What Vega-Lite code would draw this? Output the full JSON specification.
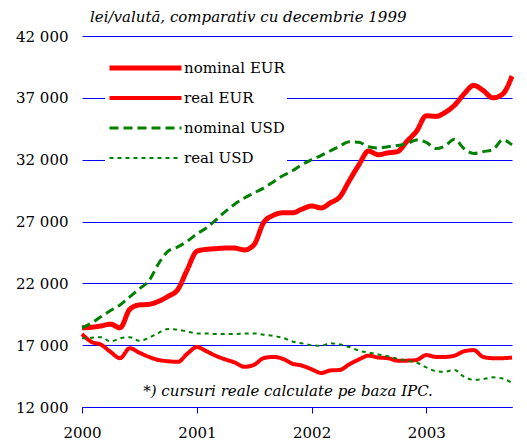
{
  "$schema": "https://vega.github.io/schema/vega-lite/v6.json",
  "width": 430,
  "height": 371,
  "autosize": {"type": "none"},
  "padding": {"left": 82, "top": 36, "right": 15, "bottom": 36},
  "background": "white",
  "title": {
    "text": "lei/valută, comparativ cu decembrie 1999",
    "anchor": "start",
    "frame": "group",
    "font": "DejaVu Serif",
    "fontSize": 15,
    "fontStyle": "italic",
    "fontWeight": "normal",
    "color": "black",
    "offset": 4,
    "dx": 8
  },
  "layer": [
    {
      "data": {
        "values": [
          {"month": "2000-01", "nominal EUR": 18400, "real EUR": 17900, "nominal USD": 18400, "real USD": 17550},
          {"month": "2000-02", "nominal EUR": 18450, "real EUR": 17250, "nominal USD": 18800, "real USD": 17600},
          {"month": "2000-03", "nominal EUR": 18550, "real EUR": 17050, "nominal USD": 19300, "real USD": 17650},
          {"month": "2000-04", "nominal EUR": 18700, "real EUR": 16450, "nominal USD": 19800, "real USD": 17300},
          {"month": "2000-05", "nominal EUR": 18400, "real EUR": 15950, "nominal USD": 20250, "real USD": 17550},
          {"month": "2000-06", "nominal EUR": 19900, "real EUR": 16750, "nominal USD": 20900, "real USD": 17650},
          {"month": "2000-07", "nominal EUR": 20250, "real EUR": 16400, "nominal USD": 21550, "real USD": 17350},
          {"month": "2000-08", "nominal EUR": 20300, "real EUR": 16050, "nominal USD": 22200, "real USD": 17600},
          {"month": "2000-09", "nominal EUR": 20550, "real EUR": 15800, "nominal USD": 23600, "real USD": 18000},
          {"month": "2000-10", "nominal EUR": 20950, "real EUR": 15700, "nominal USD": 24600, "real USD": 18300},
          {"month": "2000-11", "nominal EUR": 21500, "real EUR": 15650, "nominal USD": 24950, "real USD": 18250},
          {"month": "2000-12", "nominal EUR": 23100, "real EUR": 16300, "nominal USD": 25400, "real USD": 18100},
          {"month": "2001-01", "nominal EUR": 24600, "real EUR": 16850, "nominal USD": 26000, "real USD": 17950},
          {"month": "2001-02", "nominal EUR": 24750, "real EUR": 16500, "nominal USD": 26500, "real USD": 17950},
          {"month": "2001-03", "nominal EUR": 24800, "real EUR": 16150, "nominal USD": 27100, "real USD": 17900},
          {"month": "2001-04", "nominal EUR": 24850, "real EUR": 15850, "nominal USD": 27800, "real USD": 17900},
          {"month": "2001-05", "nominal EUR": 24850, "real EUR": 15600, "nominal USD": 28400, "real USD": 17900},
          {"month": "2001-06", "nominal EUR": 24700, "real EUR": 15250, "nominal USD": 28900, "real USD": 17950},
          {"month": "2001-07", "nominal EUR": 25100, "real EUR": 15400, "nominal USD": 29300, "real USD": 17950},
          {"month": "2001-08", "nominal EUR": 26900, "real EUR": 15950, "nominal USD": 29700, "real USD": 17850},
          {"month": "2001-09", "nominal EUR": 27500, "real EUR": 16050, "nominal USD": 30200, "real USD": 17750},
          {"month": "2001-10", "nominal EUR": 27700, "real EUR": 15900, "nominal USD": 30700, "real USD": 17600},
          {"month": "2001-11", "nominal EUR": 27700, "real EUR": 15500, "nominal USD": 31100, "real USD": 17300},
          {"month": "2001-12", "nominal EUR": 28000, "real EUR": 15350, "nominal USD": 31600, "real USD": 17150},
          {"month": "2002-01", "nominal EUR": 28250, "real EUR": 15050, "nominal USD": 32000, "real USD": 17000},
          {"month": "2002-02", "nominal EUR": 28100, "real EUR": 14750, "nominal USD": 32350, "real USD": 16950},
          {"month": "2002-03", "nominal EUR": 28500, "real EUR": 14950, "nominal USD": 32700, "real USD": 17150},
          {"month": "2002-04", "nominal EUR": 29000, "real EUR": 15000, "nominal USD": 33100, "real USD": 17050},
          {"month": "2002-05", "nominal EUR": 30300, "real EUR": 15450, "nominal USD": 33450, "real USD": 16850},
          {"month": "2002-06", "nominal EUR": 31600, "real EUR": 15850, "nominal USD": 33400, "real USD": 16550},
          {"month": "2002-07", "nominal EUR": 32700, "real EUR": 16150, "nominal USD": 33050, "real USD": 16400},
          {"month": "2002-08", "nominal EUR": 32400, "real EUR": 16000, "nominal USD": 32950, "real USD": 16250},
          {"month": "2002-09", "nominal EUR": 32550, "real EUR": 15950, "nominal USD": 33050, "real USD": 16100},
          {"month": "2002-10", "nominal EUR": 32650, "real EUR": 15750, "nominal USD": 33150, "real USD": 15900},
          {"month": "2002-11", "nominal EUR": 33500, "real EUR": 15750, "nominal USD": 33300, "real USD": 15750},
          {"month": "2002-12", "nominal EUR": 34300, "real EUR": 15800, "nominal USD": 33600, "real USD": 15600},
          {"month": "2003-01", "nominal EUR": 35550, "real EUR": 16200, "nominal USD": 33400, "real USD": 15200},
          {"month": "2003-02", "nominal EUR": 35500, "real EUR": 16050, "nominal USD": 32900, "real USD": 14900},
          {"month": "2003-03", "nominal EUR": 35800, "real EUR": 16050, "nominal USD": 33100, "real USD": 14850},
          {"month": "2003-04", "nominal EUR": 36400, "real EUR": 16150, "nominal USD": 33650, "real USD": 15000},
          {"month": "2003-05", "nominal EUR": 37300, "real EUR": 16500, "nominal USD": 32900, "real USD": 14450},
          {"month": "2003-06", "nominal EUR": 38000, "real EUR": 16600, "nominal USD": 32500, "real USD": 14200},
          {"month": "2003-07", "nominal EUR": 37600, "real EUR": 16050, "nominal USD": 32650, "real USD": 14250},
          {"month": "2003-08", "nominal EUR": 37000, "real EUR": 15950, "nominal USD": 32800, "real USD": 14400},
          {"month": "2003-09", "nominal EUR": 37300, "real EUR": 15950, "nominal USD": 33600, "real USD": 14300},
          {"month": "2003-10", "nominal EUR": 38750, "real EUR": 16000, "nominal USD": 33200, "real USD": 13950}
        ]
      },
      "transform": [
        {"fold": ["nominal EUR", "real EUR", "nominal USD", "real USD"], "as": ["series", "value"]}
      ],
      "mark": {"type": "line", "interpolate": "monotone"},
      "encoding": {
        "x": {
          "field": "month",
          "type": "temporal",
          "scale": {
            "type": "utc",
            "domain": [
              {"year": 2000, "month": 1, "date": 1, "utc": true},
              {"year": 2003, "month": 10, "date": 1, "utc": true}
            ]
          },
          "axis": {
            "values": [
              {"year": 2000, "month": 1, "date": 1, "utc": true},
              {"year": 2001, "month": 1, "date": 1, "utc": true},
              {"year": 2002, "month": 1, "date": 1, "utc": true},
              {"year": 2003, "month": 1, "date": 1, "utc": true}
            ],
            "labelExpr": "utcFormat(datum.value, '%Y')",
            "title": null,
            "grid": false,
            "domainColor": "#0000FF",
            "domainWidth": 1,
            "tickColor": "#0000FF",
            "tickSize": 6,
            "labelPadding": 12,
            "labelFont": "DejaVu Serif",
            "labelFontSize": 15,
            "labelColor": "black",
            "labelFlush": false,
            "labelOverlap": false
          }
        },
        "y": {
          "field": "value",
          "type": "quantitative",
          "scale": {"domain": [12000, 42000], "nice": false, "zero": false},
          "axis": {
            "values": [12000, 17000, 22000, 27000, 32000, 37000, 42000],
            "labelExpr": "replace(format(datum.value, ','), ',', ' ')",
            "title": null,
            "domain": false,
            "ticks": false,
            "tickSize": 0,
            "labelPadding": 14,
            "labelFont": "DejaVu Serif",
            "labelFontSize": 15,
            "labelColor": "black",
            "grid": true,
            "gridColor": "#0000FF",
            "gridOpacity": 1,
            "gridWidth": 1
          }
        },
        "color": {
          "field": "series",
          "type": "nominal",
          "scale": {
            "domain": ["nominal EUR", "real EUR", "nominal USD", "real USD"],
            "range": ["#FF0000", "#FF0000", "#008000", "#008000"]
          },
          "legend": {
            "title": null,
            "orient": "none",
            "legendX": 23,
            "legendY": 22,
            "symbolType": "stroke",
            "symbolSize": 5184,
            "clipHeight": 16,
            "rowPadding": 14,
            "labelFont": "DejaVu Serif",
            "labelFontSize": 15,
            "labelColor": "black",
            "labelOffset": 0,
            "labelLimit": 300,
            "fillColor": "white",
            "padding": 2
          }
        },
        "strokeWidth": {
          "field": "series",
          "type": "nominal",
          "scale": {
            "domain": ["nominal EUR", "real EUR", "nominal USD", "real USD"],
            "range": [5, 2, 5, 3]
          }
        },
        "strokeDash": {
          "field": "series",
          "type": "nominal",
          "scale": {
            "domain": ["nominal EUR", "real EUR", "nominal USD", "real USD"],
            "range": [[1, 0], [1, 0], [9, 5], [4, 4]]
          }
        }
      }
    },
    {
      "data": {"values": [{"note": "*) cursuri reale calculate pe baza IPC."}]},
      "mark": {
        "type": "text",
        "font": "DejaVu Serif",
        "fontStyle": "italic",
        "fontSize": 15,
        "align": "center",
        "baseline": "middle",
        "color": "black"
      },
      "encoding": {
        "x": {"datum": {"year": 2001, "month": 10, "date": 18, "utc": true}, "type": "temporal"},
        "y": {"datum": 13300, "type": "quantitative"},
        "text": {"field": "note"}
      }
    }
  ],
  "config": {"view": {"stroke": null}}
}
